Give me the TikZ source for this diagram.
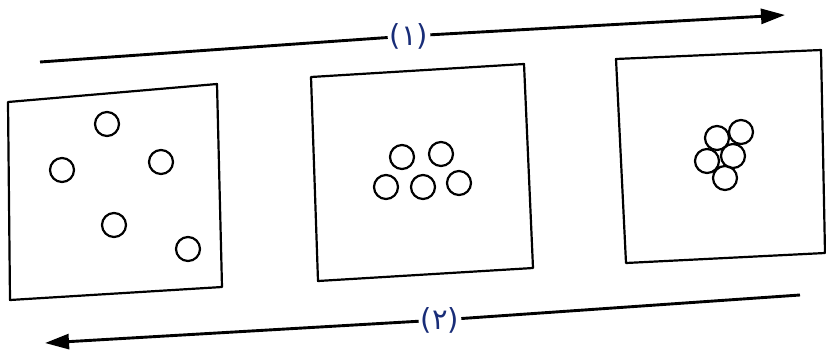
\documentclass[tikz,border=0pt]{standalone}
\usepackage{fontspec}
\newfontfamily\arabicfont[Script=Arabic]{DejaVu Sans}
\usetikzlibrary{arrows.meta}
\definecolor{labelblue}{RGB}{25,45,120}
\begin{document}
\begin{tikzpicture}[x=1pt,y=-1pt,
  flow/.style={line width=2.9pt},
  frame/.style={line width=2.2pt, line join=round},
  grain/.style={line width=2.2pt},
  lbl/.style={font=\arabicfont\fontsize{29}{31}\selectfont, text=labelblue, inner sep=2pt},
  tip/.style={-{Triangle[length=24pt,width=15pt]}}]
\useasboundingbox (0,0) rectangle (826,351);
% top arrow (1)
\coordinate (t0) at (40,62);
\node[lbl] (l1) at (409,36) {(١)};
\coordinate (t1) at (785,15);
\draw[flow] (t0) -- (l1);
\draw[flow,tip] (l1) -- (t1);
% bottom arrow (2)
\coordinate (b0) at (800,295);
\node[lbl] (l2) at (440,320) {(٢)};
\coordinate (b1) at (45,343);
\draw[flow] (b0) -- (l2);
\draw[flow,tip] (l2) -- (b1);
% box 1
\draw[frame] (8,102) -- (217,84) -- (222,287) -- (10,300) -- cycle;
\foreach \p in {(107,124),(62,170),(161,162),(114,225),(188,249)}
  \draw[grain] \p circle (12);
% box 2
\draw[frame] (311,77) -- (524,64) -- (533,268) -- (318,281) -- cycle;
\foreach \p in {(402,157),(441,154),(386,187),(423,187),(459,183)}
  \draw[grain] \p circle (12);
% box 3
\draw[frame] (616,59) -- (821,50) -- (825,253) -- (626,263) -- cycle;
\foreach \p in {(717,138),(741,132),(707,161),(733,156),(725,178)}
  \draw[grain] \p circle (12);
\end{tikzpicture}
\end{document}
